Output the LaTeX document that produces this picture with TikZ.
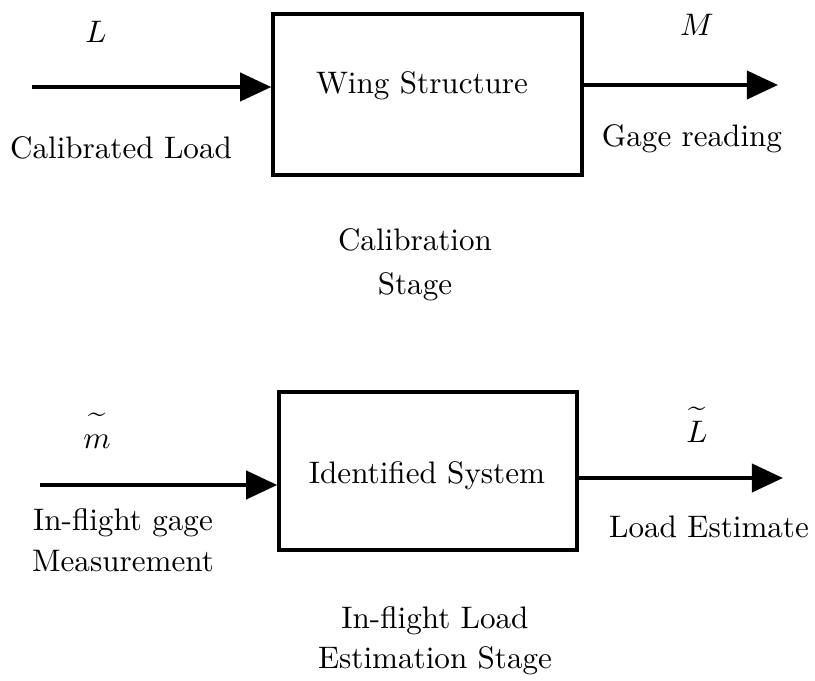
\documentclass[tikz,border=0pt]{standalone}
\usetikzlibrary{arrows.meta}
\begin{document}
\begin{tikzpicture}[x=0.3214pt,y=-0.3214pt,
  blockbox/.style={draw,line width=1.1pt,rectangle,inner sep=0pt},
  flow/.style={line width=1.3pt,-{Triangle[length=10pt,width=9pt]}},
  lbl/.style={inner sep=0pt,align=center}]
\useasboundingbox (0,0) rectangle (815,681);

% calibration stage
\node[blockbox,minimum width=99.3pt,minimum height=51.7pt] (wing) at (427.5,94.5) {};
\node[lbl] (wingtxt) at (422,86) {Wing Structure};
\coordinate (inL) at (32,87);
\coordinate (outM) at (778,85);
\draw[flow] (inL) -- (inL -| wing.west);
\draw[flow] (outM -| wing.east) -- (outM);
\node[lbl] (symL) at (96,32) {$L$};
\node[lbl] (symM) at (697,25) {$M$};
\node[lbl] (calload) at (121,148) {Calibrated Load};
\node[lbl] (gage) at (692,139) {Gage reading};
\node[lbl] (calstage) at (415,265) {Calibration\\[2pt] Stage};

% estimation stage
\node[blockbox,minimum width=95.8pt,minimum height=50.8pt] (ident) at (428,471) {};
\node[lbl] (identtxt) at (427,476) {Identified System};
\coordinate (inm) at (40,485);
\coordinate (outLt) at (783,478);
\draw[flow] (inm) -- (inm -| ident.west);
\draw[flow] (outLt -| ident.east) -- (outLt);
\node[lbl,anchor=base] (symm) at (97,449) {$\widetilde{m\vphantom{\big(}}$};
\node[lbl,anchor=base] (symLt) at (697,443) {$\widetilde{L\vphantom{\big(}}$};
\node[lbl] (gagemeas) at (123,540) {In-flight gage\\[1pt] Measurement};
\node[lbl] (loadest) at (709,527) {Load Estimate};
\node[lbl] (eststage) at (435,641) {In-flight Load\\[1pt] Estimation Stage};
\end{tikzpicture}
\end{document}
